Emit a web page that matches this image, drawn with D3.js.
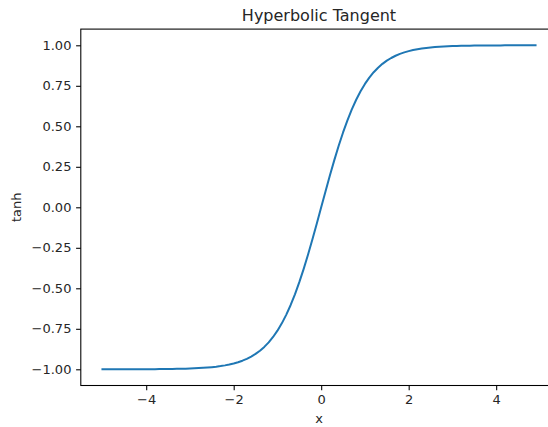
<!DOCTYPE html>
<html>
<head>
<meta charset="utf-8">
<script src="https://cdn.jsdelivr.net/npm/d3@7"></script>
<style>
  html, body { margin: 0; padding: 0; background: #fff; }
  svg text { font-family: "DejaVu Sans", sans-serif; fill: #262626; }
</style>
</head>
<body>
<svg id="chart" width="548" height="427"></svg>
<script>
// Sample points of the curve
const xValues = [
  -5.0, -4.9, -4.8, -4.7, -4.6, -4.5, -4.4, -4.3, -4.2, -4.1,
  -4.0, -3.9, -3.8, -3.7, -3.6, -3.5, -3.4, -3.3, -3.2, -3.1,
  -3.0, -2.9, -2.8, -2.7, -2.6, -2.5, -2.4, -2.3, -2.2, -2.1,
  -2.0, -1.9, -1.8, -1.7, -1.6, -1.5, -1.4, -1.3, -1.2, -1.1,
  -1.0, -0.9, -0.8, -0.7, -0.6, -0.5, -0.4, -0.3, -0.2, -0.1,
   0.0,  0.1,  0.2,  0.3,  0.4,  0.5,  0.6,  0.7,  0.8,  0.9,
   1.0,  1.1,  1.2,  1.3,  1.4,  1.5,  1.6,  1.7,  1.8,  1.9,
   2.0,  2.1,  2.2,  2.3,  2.4,  2.5,  2.6,  2.7,  2.8,  2.9,
   3.0,  3.1,  3.2,  3.3,  3.4,  3.5,  3.6,  3.7,  3.8,  3.9,
   4.0,  4.1,  4.2,  4.3,  4.4,  4.5,  4.6,  4.7,  4.8,  4.9
];
const tanhValues = [
  -0.9999, -0.9999, -0.9999, -0.9998, -0.9998, -0.9998, -0.9997, -0.9996, -0.9996, -0.9995,
  -0.9993, -0.9992, -0.9990, -0.9988, -0.9985, -0.9982, -0.9978, -0.9973, -0.9967, -0.9959,
  -0.9951, -0.9940, -0.9926, -0.9910, -0.9890, -0.9866, -0.9837, -0.9801, -0.9757, -0.9705,
  -0.9640, -0.9562, -0.9468, -0.9354, -0.9217, -0.9051, -0.8854, -0.8617, -0.8337, -0.8005,
  -0.7616, -0.7163, -0.6640, -0.6044, -0.5370, -0.4621, -0.3799, -0.2913, -0.1974, -0.0997,
   0.0000,  0.0997,  0.1974,  0.2913,  0.3799,  0.4621,  0.5370,  0.6044,  0.6640,  0.7163,
   0.7616,  0.8005,  0.8337,  0.8617,  0.8854,  0.9051,  0.9217,  0.9354,  0.9468,  0.9562,
   0.9640,  0.9705,  0.9757,  0.9801,  0.9837,  0.9866,  0.9890,  0.9910,  0.9926,  0.9940,
   0.9951,  0.9959,  0.9967,  0.9973,  0.9978,  0.9982,  0.9985,  0.9988,  0.9990,  0.9992,
   0.9993,  0.9995,  0.9996,  0.9996,  0.9997,  0.9998,  0.9998,  0.9998,  0.9999,  0.9999
];
const xTicks = [-4, -2, 0, 2, 4];
const yTicks = [-1.0, -0.75, -0.5, -0.25, 0.0, 0.25, 0.5, 0.75, 1.0];

const titleText = "Hyperbolic Tangent";
const xLabel = "x";
const yLabel = "tanh";

// Plot area
const plotLeft = 80.8, plotRight = 557.2, plotTop = 29.1, plotBottom = 385.5;
const tickLen = 4.7, tickPad = 4.7;

const svg = d3.select("#chart");

const xExtent = d3.extent(xValues);
const xMargin = (xExtent[1] - xExtent[0]) * 0.05;
const x = d3.scaleLinear()
  .domain([xExtent[0] - xMargin, xExtent[1] + xMargin])
  .range([plotLeft, plotRight]);

const yExtent = [-1, 1];
const yMargin = (yExtent[1] - yExtent[0]) * 0.05;
const y = d3.scaleLinear()
  .domain([yExtent[0] - yMargin, yExtent[1] + yMargin])
  .range([plotBottom, plotTop]);

const minus = s => s.replace("-", "\u2212");

// Curve
const points = xValues.map((v, i) => [v, tanhValues[i]]);
svg.append("path")
  .datum(points)
  .attr("fill", "none")
  .attr("stroke", "#1f77b4")
  .attr("stroke-width", 2)
  .attr("stroke-linejoin", "round")
  .attr("stroke-linecap", "square")
  .attr("d", d3.line().x(d => x(d[0])).y(d => y(d[1])));

// Axes
const xAxis = svg.append("g")
  .attr("transform", `translate(0,${plotBottom})`)
  .call(d3.axisBottom(x).tickValues(xTicks).tickSize(tickLen).tickPadding(tickPad)
    .tickFormat(d => minus(d3.format("d")(d))));
const yAxis = svg.append("g")
  .attr("transform", `translate(${plotLeft},0)`)
  .call(d3.axisLeft(y).tickValues(yTicks).tickSize(tickLen).tickPadding(tickPad)
    .tickFormat(d => minus(d3.format(".2f")(d))));

[xAxis, yAxis].forEach(g => {
  g.select(".domain").remove();
  g.selectAll(".tick line").attr("stroke", "#000").attr("stroke-width", 1.07);
  g.selectAll(".tick text")
    .style("font-family", "DejaVu Sans, sans-serif")
    .style("font-size", "13px")
    .attr("fill", "#262626");
});

// Frame
svg.append("rect")
  .attr("x", plotLeft).attr("y", plotTop)
  .attr("width", plotRight - plotLeft).attr("height", plotBottom - plotTop)
  .attr("fill", "none")
  .attr("stroke", "#000")
  .attr("stroke-width", 1.07);

// Title and axis labels
svg.append("text")
  .attr("x", (plotLeft + plotRight) / 2).attr("y", 21)
  .attr("text-anchor", "middle")
  .style("font-size", "16px")
  .text(titleText);

svg.append("text")
  .attr("x", (plotLeft + plotRight) / 2).attr("y", 423)
  .attr("text-anchor", "middle")
  .style("font-size", "13px")
  .text(xLabel);

svg.append("text")
  .attr("transform", `translate(21,${(plotTop + plotBottom) / 2}) rotate(-90)`)
  .attr("text-anchor", "middle")
  .style("font-size", "13px")
  .text(yLabel);
</script>
</body>
</html>
